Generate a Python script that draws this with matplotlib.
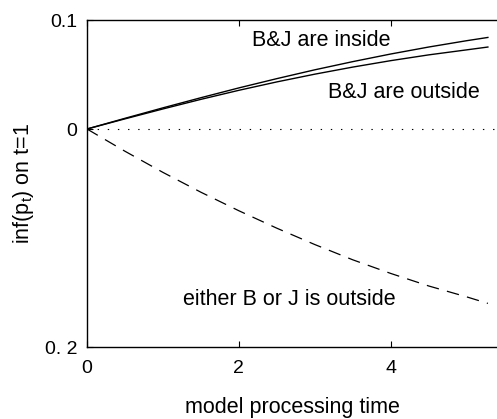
import matplotlib
matplotlib.use("Agg")
import matplotlib.pyplot as plt

plt.rcParams['font.family'] = ['Liberation Sans', 'DejaVu Sans']
plt.rcParams['mathtext.fontset'] = 'custom'
plt.rcParams['mathtext.rm'] = 'Liberation Sans'
plt.rcParams['mathtext.it'] = 'Liberation Sans'
plt.rcParams['lines.scale_dashes'] = False

# data
t = [0, 0.5, 1, 1.5, 2, 2.5, 3, 3.5, 4, 4.5, 5, 5.28]
inside = [0, 0.0098, 0.0194, 0.0287, 0.0377, 0.0462, 0.0543, 0.0618, 0.0688, 0.0752, 0.0810, 0.0840]
outside = [0, 0.0093, 0.0184, 0.0272, 0.0355, 0.0432, 0.0503, 0.0568, 0.0627, 0.0680, 0.0726, 0.0752]
either = [0, -0.0204, -0.0398, -0.058, -0.075, -0.091, -0.106, -0.120, -0.1325, -0.144, -0.154, -0.160]

xticks = [0, 2, 4]
yticks = [0.1, 0, -0.2]
yticklabels = ['0.1', '0', '0. 2']

fig = plt.figure(figsize=(4.97, 4.19), dpi=100)
ax = fig.add_axes([87/497, (419-347)/419, 410/497, (347-20)/419])

ax.plot(t, inside, color='black', lw=1.0)
ax.plot(t, outside, color='black', lw=1.0)
ax.plot(t, either, color='black', lw=0.9, dashes=(9, 6))
ax.axhline(0, color='black', lw=0.8, dashes=(1, 6.3))

ax.set_xlim(0, 5.4)
ax.set_ylim(-0.2, 0.1)
ax.set_xticks(xticks)
ax.set_xticklabels([str(v) for v in xticks])
ax.set_yticks(yticks)
ax.set_yticklabels(yticklabels)
ax.tick_params(direction='in', length=4, width=0.8, labelsize=14, top=True,
               right=False, colors='black')
ax.tick_params(axis='x', pad=9)
ax.tick_params(axis='y', pad=7)
for s in ['left', 'bottom', 'top']:
    ax.spines[s].set_linewidth(1.0)
ax.spines['right'].set_visible(False)

ax.text(2.17, 0.0815, 'B&J are inside', fontsize=15.5, va='center', ha='left')
ax.text(3.17, 0.0333, 'B&J are outside', fontsize=15.5, va='center', ha='left')
ax.text(1.26, -0.1565, 'either B or J is outside', fontsize=15.5, va='center', ha='left')

ax.set_xlabel('model processing time', fontsize=15.5, labelpad=15)
ax.set_ylabel(r'inf(p$_\mathrm{t}$) on t=1', fontsize=15.5, labelpad=6)

fig.savefig('out.png', dpi=100)
